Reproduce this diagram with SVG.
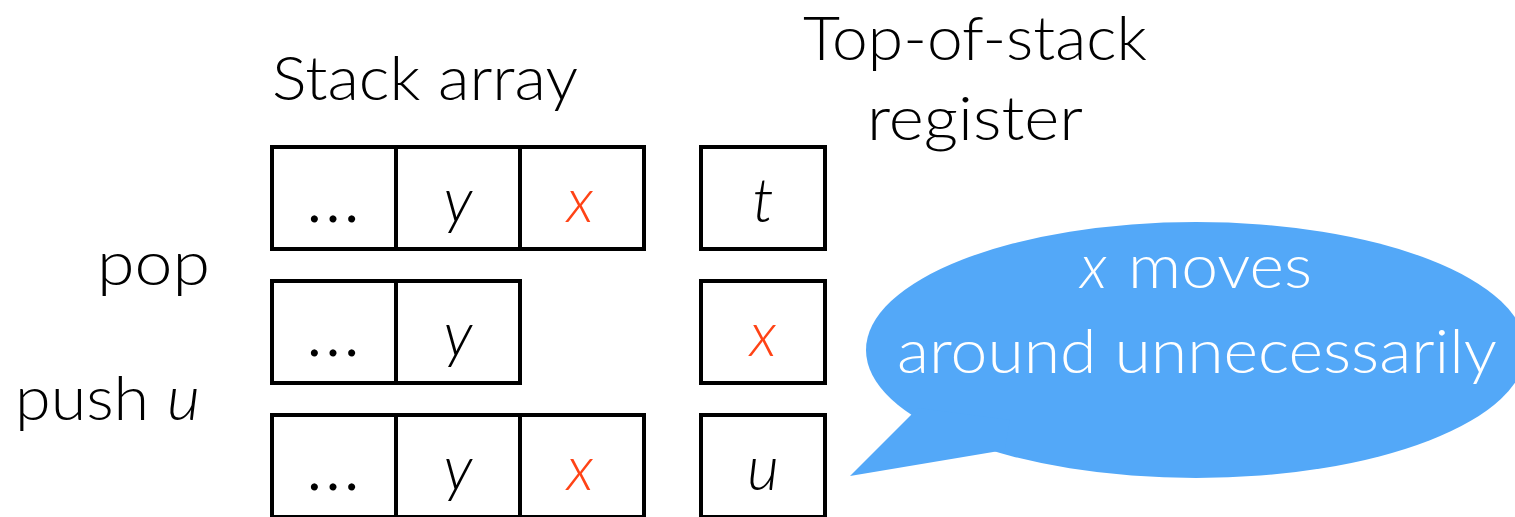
<svg xmlns="http://www.w3.org/2000/svg" width="1515" height="517" viewBox="0 0 1515 517">
<style>
.cell{fill:#fff;stroke:#000;stroke-width:4}
.t{font-family:Lato,"Noto Sans",sans-serif;font-weight:300;font-size:62px;fill:#000}
.c{font-family:Lato,"Noto Sans",sans-serif;font-weight:300;font-size:62px;fill:#000;text-anchor:middle}
.d{font-size:76px}
.i{font-style:italic}
.r{fill:#FF4316}
.w{fill:#fff;font-size:62px}
</style>
<g id="labels">
<text class="t" x="272" y="100" textLength="306" lengthAdjust="spacingAndGlyphs">Stack array</text>
<text class="t" x="803" y="60" textLength="344" lengthAdjust="spacingAndGlyphs">Top-of-stack</text>
<text class="t" x="867" y="140" textLength="216" lengthAdjust="spacingAndGlyphs">register</text>
<text class="t" x="97" y="285" textLength="113" lengthAdjust="spacingAndGlyphs">pop</text>
<text class="t" x="15" y="420" textLength="185" lengthAdjust="spacingAndGlyphs">push <tspan class="i">u</tspan></text>
</g>
<g id="row1">
<rect class="cell" x="272" y="147" width="124" height="102"/>
<rect class="cell" x="396" y="147" width="124" height="102"/>
<rect class="cell" x="520" y="147" width="124" height="102"/>
<rect class="cell" x="701" y="147" width="124" height="102"/>
<text class="c d" x="333" y="222">…</text>
<text class="c i" x="458" y="222">y</text>
<text class="c i r" x="580" y="222">x</text>
<text class="c i" x="763" y="222">t</text>
</g>
<g id="row2">
<rect class="cell" x="272" y="281" width="124" height="102"/>
<rect class="cell" x="396" y="281" width="124" height="102"/>
<rect class="cell" x="701" y="281" width="124" height="102"/>
<text class="c d" x="333" y="356">…</text>
<text class="c i" x="458" y="356">y</text>
<text class="c i r" x="763" y="356">x</text>
</g>
<g id="row3">
<rect class="cell" x="272" y="415" width="124" height="102"/>
<rect class="cell" x="396" y="415" width="124" height="102"/>
<rect class="cell" x="520" y="415" width="124" height="102"/>
<rect class="cell" x="701" y="415" width="124" height="102"/>
<text class="c d" x="333" y="490">…</text>
<text class="c i" x="458" y="490">y</text>
<text class="c i r" x="580" y="490">x</text>
<text class="c i" x="763" y="490">u</text>
</g>
<g id="bubble">
<ellipse cx="1196" cy="350" rx="330" ry="128" fill="#53A8F8"/>
<polygon points="918,408 850,476 1005,450 1010,420" fill="#53A8F8"/>
<text class="t w i" x="1080" y="288">x</text>
<text class="t w" x="1128" y="288" textLength="184" lengthAdjust="spacingAndGlyphs">moves</text>
<text class="t w" x="897" y="373" textLength="600" lengthAdjust="spacingAndGlyphs">around unnecessarily</text>
</g>
</svg>
